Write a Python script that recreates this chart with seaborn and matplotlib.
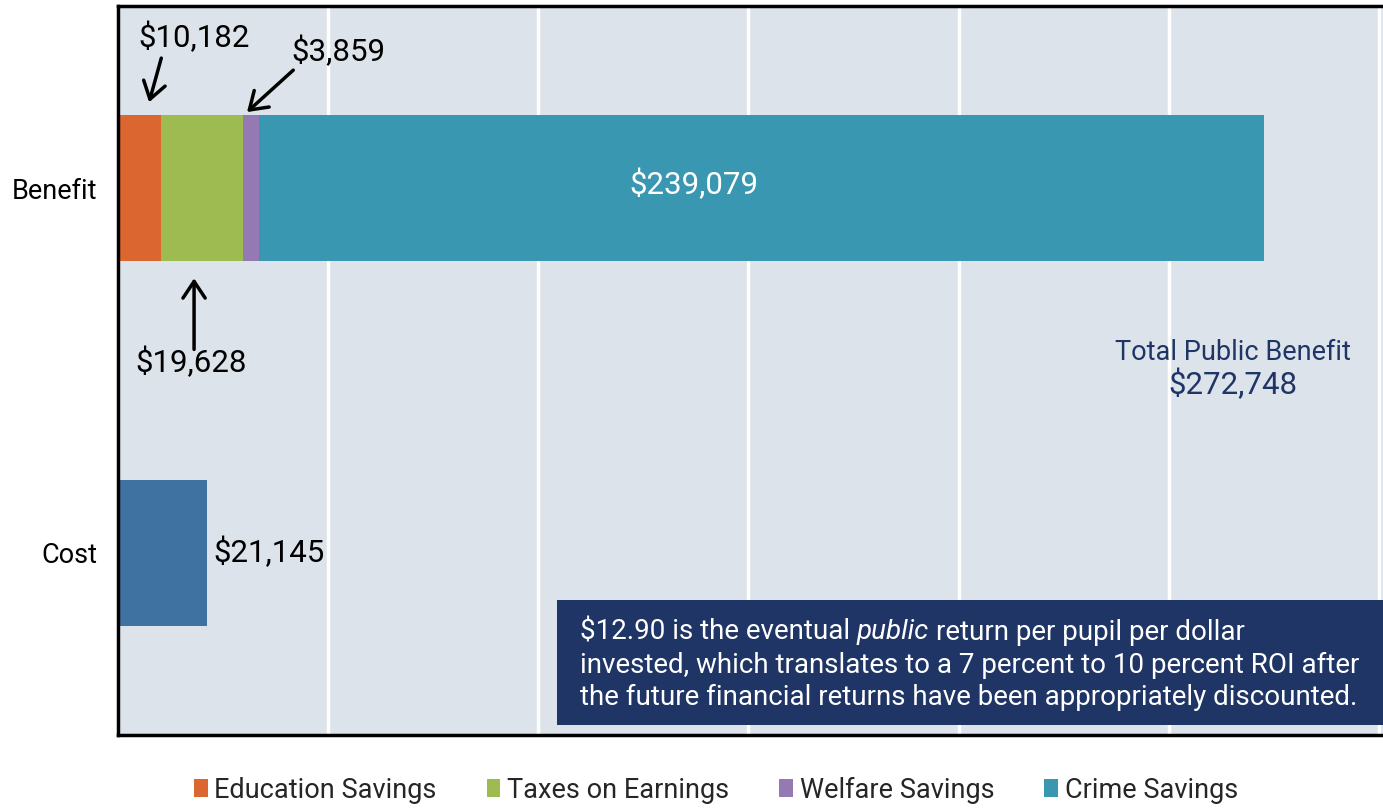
import matplotlib
matplotlib.use("Agg")
import matplotlib.pyplot as plt
from matplotlib.patches import Patch, Rectangle
import numpy as np
import pandas as pd
import seaborn as sns

# ---- data ----
rows = ["Benefit", "Cost"]
segments = ["Education Savings", "Taxes on Earnings", "Welfare Savings", "Crime Savings"]
benefit_values = [10182, 19628, 3859, 239079]
cost_value = 21145
segment_colors = ["#DC6630", "#9DBB50", "#9579B2", "#3A97B2"]
cost_color = "#3F72A0"
navy = "#1F3566"
panel_bg = "#DDE3EA"

total_benefit = sum(benefit_values)
cumulative = np.cumsum(benefit_values)

sns.set_theme(style="white")
plt.rcParams["font.family"] = ["Roboto", "DejaVu Sans"]
FS = 19.5      # words
NUM_FS = 22.5  # dollar figures
BOX_FS = 20

W, H = 1383, 809
fig = plt.figure(figsize=(W / 100, H / 100), dpi=100)
ax = fig.add_axes([118 / W, 74 / H, 1 - 118 / W, 729 / H])
ax.set_facecolor(panel_bg)

# widest layer first (total benefit + cost), then narrower cumulative layers on top
base = pd.DataFrame({"row": rows, "value": [cumulative[-1], cost_value]})
sns.barplot(data=base, x="value", y="row", hue="row", order=rows,
            palette=[segment_colors[-1], cost_color], width=0.4,
            saturation=1, linewidth=0, legend=False, ax=ax)
for i in range(len(segments) - 2, -1, -1):
    layer = pd.DataFrame({"row": ["Benefit"], "value": [cumulative[i]]})
    sns.barplot(data=layer, x="value", y="row", order=rows, color=segment_colors[i],
                width=0.4, saturation=1, linewidth=0, ax=ax)

ax.set_xlim(0, 301000)
ax.set_ylim(1.5, -0.5)
ax.set_xticks(np.arange(0, 300001, 50000))
ax.set_xticklabels([])
ax.tick_params(axis="x", length=0)
ax.tick_params(axis="y", length=0, pad=15, labelsize=FS, labelcolor="black")
ax.set_xlabel("")
ax.set_ylabel("")
ax.set_axisbelow(True)
ax.grid(axis="x", color="white", linewidth=2.5)
ax.grid(axis="y", visible=False)
for side in ["left", "top", "bottom"]:
    ax.spines[side].set_visible(True)
    ax.spines[side].set_color("black")
    ax.spines[side].set_linewidth(2.5)
ax.spines["right"].set_visible(False)

# ---- value labels and arrows ----
arrow = dict(arrowstyle="->, head_length=0.6, head_width=0.4", lw=2.5, color="black",
             shrinkA=0, shrinkB=0, mutation_scale=20)
edu, tax, wel, crime = benefit_values

ax.text(18000, -0.415, f"${edu:,}", ha="center", va="center", fontsize=NUM_FS, color="black")
ax.annotate("", xy=(7400, -0.236), xytext=(10300, -0.357), arrowprops=arrow)

ax.text(52500, -0.374, f"${wel:,}", ha="center", va="center", fontsize=NUM_FS, color="black")
ax.annotate("", xy=(30700, -0.209), xytext=(41700, -0.324), arrowprops=arrow)

ax.text(17400, 0.478, f"${tax:,}", ha="center", va="center", fontsize=NUM_FS, color="black")
ax.annotate("", xy=(18100, 0.247), xytext=(18100, 0.442), arrowprops=arrow)

ax.text(137000, -0.011, f"${crime:,}", ha="center", va="center", fontsize=NUM_FS, color="white")

ax.text(cost_value + 1600, 1.0, f"${cost_value:,}", ha="left", va="center",
        fontsize=NUM_FS, color="black")

ax.text(265200, 0.450, "Total Public Benefit", ha="center", va="center",
        fontsize=FS, color=navy)
ax.text(265200, 0.538, f"${total_benefit:,}", ha="center", va="center",
        fontsize=NUM_FS, color=navy)

# ---- callout box ----
box = Rectangle((557 / W, (H - 725) / H), (W - 557) / W + 0.01, 125 / H,
                transform=fig.transFigure, facecolor=navy, edgecolor="none", zorder=3)
fig.add_artist(box)

x0 = 580 / W
line_y = [(H - 632) / H, (H - 665) / H, (H - 697) / H]
renderer = fig.canvas.get_renderer()


def text_width(s, **kw):
    t = fig.text(0, 0, s, fontsize=BOX_FS, **kw)
    w = t.get_window_extent(renderer).width
    t.remove()
    return w


space = text_width("a a") - text_width("aa")
parts = [("$12.90 is the eventual", "normal"), ("public", "italic"),
         ("return per pupil per dollar", "normal")]
x = x0
for s, style in parts:
    t = fig.text(x, line_y[0], s, fontsize=BOX_FS, color="white", style=style,
                 va="center", ha="left", zorder=4)
    x += (t.get_window_extent(renderer).width + space) / W
fig.text(x0, line_y[1], "invested, which translates to a 7 percent to 10 percent ROI after",
         fontsize=BOX_FS, color="white", va="center", ha="left", zorder=4)
fig.text(x0, line_y[2], "the future financial returns have been appropriately discounted.",
         fontsize=BOX_FS, color="white", va="center", ha="left", zorder=4)

# ---- legend ----
handles = [Patch(facecolor=c, edgecolor="none", label=s)
           for s, c in zip(segments, segment_colors)]
fig.legend(handles=handles, loc="center", bbox_to_anchor=(716 / W, (H - 790) / H),
           ncol=4, frameon=False, fontsize=FS, handlelength=0.5, handleheight=0.65,
           handletextpad=0.25, columnspacing=1.85)

fig.savefig("out.png", dpi=100)
